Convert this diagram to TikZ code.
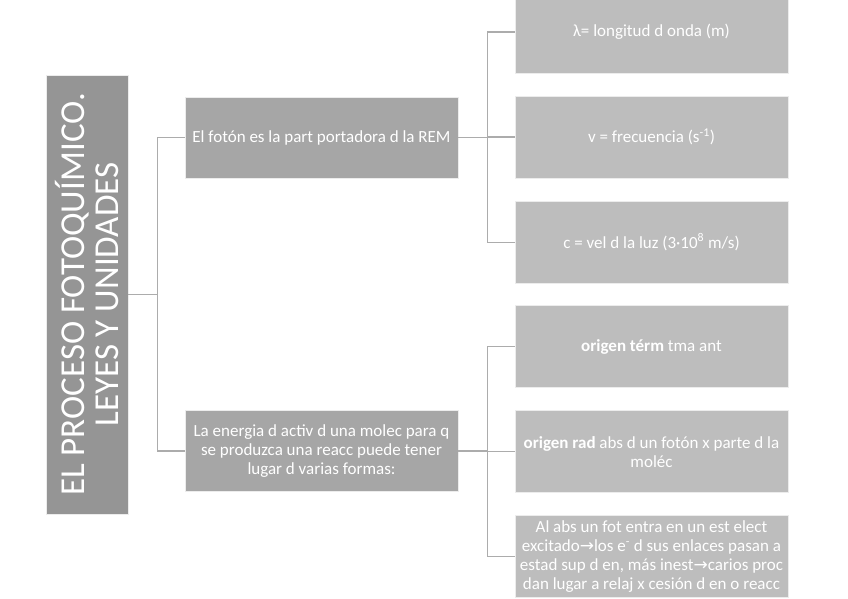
\documentclass[tikz,border=0pt]{standalone}
\usepackage{fontspec}
\setmainfont{Carlito}
\newfontfamily\arrowfont{DejaVu Sans}
\usetikzlibrary{positioning}

\definecolor{rootgray}{HTML}{959595}
\definecolor{midgray}{HTML}{A6A6A6}
\definecolor{leafgray}{HTML}{BDBDBD}
\definecolor{linegray}{HTML}{ACACAC}

\newcommand{\toarrow}{{\arrowfont\char"2192}}

\begin{document}
\begin{tikzpicture}[
    x=1pt,y=-1pt,
    node distance=22.5pt,
    box/.style={rectangle,draw=white!85!gray,line width=0.6pt,align=center,text=white,inner sep=2pt,
                font=\fontsize{17}{19}\selectfont},
    rootbox/.style={box,fill=rootgray,minimum width=82pt,minimum height=439pt},
    midbox/.style={box,fill=midgray,minimum width=273pt,minimum height=81pt},
    leafbox/.style={box,fill=leafgray,minimum width=273pt,minimum height=82pt},
    conn/.style={draw=linegray,line width=1.4pt},
]

\useasboundingbox (0,0) rectangle (848,599);

% ===== Root =====
\node[rootbox] (root) at (87,294.5) {};
\node[rotate=90,align=center,text=white,font=\fontsize{35}{34}\selectfont] (roottext) at (root.center)
    {EL PROCESO FOTOQUÍMICO.\\LEYES Y UNIDADES};

% ===== Level 1 =====
\node[midbox] (foton) at (321.5,137.5) {El fotón es la part portadora d la REM};
\node[midbox] (energia) at (321.5,451) {La energia d activ d una molec para q\\se produzca una reacc puede tener\\lugar d varias formas:};

% ===== Level 2 (photon) =====
\node[leafbox] (lambda) at (651.5,32) {λ= longitud d onda (m)};
\node[leafbox,below=of lambda] (freq) {v = frecuencia (s\textsuperscript{-1})};
\node[leafbox,below=of freq] (vel) {c = vel d la luz (3·10\textsuperscript{8} m/s)};

% ===== Level 2 (energy) =====
\node[leafbox] (term) at (651.5,346.5) {\textbf{origen térm} tma ant};
\node[leafbox,below=of term] (rad) {\textbf{origen rad} abs d un fotón x parte d la\\moléc};
\node[leafbox,below=of rad] (abs) {Al abs un fot entra en un est elect\\excitado\toarrow los e\textsuperscript{-} d sus enlaces pasan a\\estad sup d en, más inest\toarrow carios proc\\dan lugar a relaj x cesión d en o reacc};

% Connections
\draw[conn] (root.east) -- ++(29,0) |- (foton.west);
\draw[conn] (root.east) -- ++(29,0) |- (energia.west);
\draw[conn] (foton.east) -- ++(29,0) |- (lambda.west);
\draw[conn] (foton.east) -- ++(29,0) |- (freq.west);
\draw[conn] (foton.east) -- ++(29,0) |- (vel.west);
\draw[conn] (energia.east) -- ++(29,0) |- (term.west);
\draw[conn] (energia.east) -- ++(29,0) |- (rad.west);
\draw[conn] (energia.east) -- ++(29,0) |- (abs.west);

\end{tikzpicture}
\end{document}
